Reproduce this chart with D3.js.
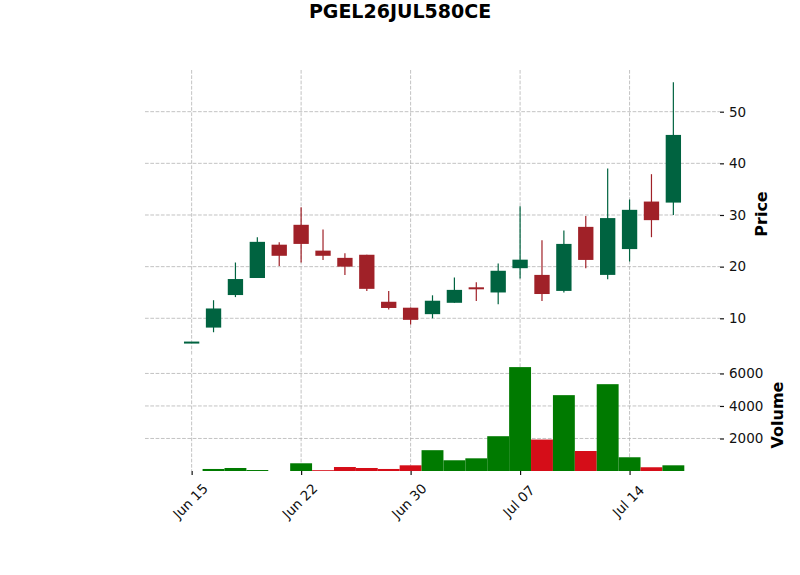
<!DOCTYPE html>
<html>
<head>
<meta charset="utf-8">
<script src="https://cdn.jsdelivr.net/npm/d3@7"></script>
<style>
  body { margin: 0; background: #fff; }
  text { font-family: "DejaVu Sans", sans-serif; }
</style>
</head>
<body>
<div id="chart"></div>
<script>
// data
var dates = ["Jun 15","Jun 16","Jun 17","Jun 18","Jun 19","Jun 22","Jun 23","Jun 24","Jun 25","Jun 26",
             "Jun 30","Jul 01","Jul 02","Jul 03","Jul 06","Jul 07","Jul 08","Jul 09","Jul 10","Jul 13",
             "Jul 14","Jul 15","Jul 16"];
var opens  = [5.3, 8.2, 14.5, 17.8, 24.25, 28.1, 23.1, 21.7, 22.3, 13.2, 12.05, 10.8, 13.0, 16.0, 15.0, 19.7, 18.4, 15.3, 27.7, 18.4, 23.4, 32.6, 32.4];
var highs  = [5.3, 13.5, 20.8, 25.7, 24.7, 31.5, 27.2, 22.6, 22.3, 15.3, 12.1, 14.45, 17.9, 17.0, 20.6, 31.7, 25.1, 27.0, 29.8, 39.0, 33.0, 37.9, 55.7];
var lows   = [5.3, 7.3, 14.1, 17.8, 20.1, 20.8, 21.3, 18.4, 15.3, 11.7, 8.8, 10.0, 13.0, 13.35, 12.7, 17.7, 13.35, 15.0, 19.7, 17.55, 21.0, 25.7, 30.0];
var closes = [5.3, 11.9, 17.6, 24.8, 22.1, 24.4, 22.1, 20.0, 15.7, 12.0, 9.7, 13.4, 15.5, 15.7, 19.2, 21.35, 14.7, 24.4, 21.3, 29.4, 31.0, 29.0, 45.5];
var volumes = [0, 125, 185, 60, 0, 475, 50, 245, 185, 125, 350, 1280, 660, 780, 2140, 6390, 1935, 4665, 1230, 5340, 845, 230, 350];

var xTickIdx = [0, 5, 10, 15, 20];
var priceTicks = [10, 20, 30, 40, 50];
var volTicks = [2000, 4000, 6000];

var upColor = "#006340", downColor = "#A02128";
var volUp = "#007a00", volDown = "#d50d18";

var svgWidth = 800, svgHeight = 575;
var left = 145, right = 720;
var priceTop = 70, priceBottom = 356;
var volTop = 358, volBottom = 471;

var svg = d3.select("#chart").append("svg")
  .attr("width", svgWidth)
  .attr("height", svgHeight);

var x = d3.scaleLinear().domain([-2.13, 24.13]).range([left, right]);
var yPrice = d3.scaleLinear().domain([2.70, 58.07]).range([priceBottom, priceTop]);
var yVol = d3.scaleLinear().domain([0, 6950]).range([volBottom, volTop]);
var step = x(1) - x(0);

var grid = svg.append("g")
  .attr("stroke", "#b4b4b4")
  .attr("stroke-width", 0.8)
  .attr("stroke-dasharray", "3.7,1.6");

// vertical grid lines in both panels
xTickIdx.forEach(function(i) {
  grid.append("line").attr("x1", x(i)).attr("x2", x(i)).attr("y1", priceTop).attr("y2", priceBottom);
  grid.append("line").attr("x1", x(i)).attr("x2", x(i)).attr("y1", volTop).attr("y2", volBottom);
});
priceTicks.forEach(function(t) {
  grid.append("line").attr("x1", left).attr("x2", right).attr("y1", yPrice(t)).attr("y2", yPrice(t));
});
volTicks.forEach(function(t) {
  grid.append("line").attr("x1", left).attr("x2", right).attr("y1", yVol(t)).attr("y2", yVol(t));
});

var candles = dates.map(function(d, i) {
  return { i: i, o: opens[i], h: highs[i], l: lows[i], c: closes[i], v: volumes[i] };
});

// volume bars (colour by close vs previous close)
svg.append("g").selectAll("rect")
  .data(candles.filter(function(d) { return d.v > 0; }))
  .enter().append("rect")
  .attr("x", function(d) { return x(d.i) - step / 2; })
  .attr("width", step)
  .attr("y", function(d) { return yVol(d.v); })
  .attr("height", function(d) { return yVol(0) - yVol(d.v); })
  .attr("fill", function(d) {
    var prev = d.i > 0 ? closes[d.i - 1] : d.c;
    return d.c >= prev ? volUp : volDown;
  });

// wicks
var cg = svg.append("g");
cg.selectAll("line")
  .data(candles)
  .enter().append("line")
  .attr("x1", function(d) { return x(d.i); })
  .attr("x2", function(d) { return x(d.i); })
  .attr("y1", function(d) { return yPrice(d.h); })
  .attr("y2", function(d) { return yPrice(d.l); })
  .attr("stroke", function(d) { return d.c >= d.o ? upColor : downColor; })
  .attr("stroke-width", 1.2);

// bodies
cg.selectAll("rect")
  .data(candles)
  .enter().append("rect")
  .attr("x", function(d) { return x(d.i) - step * 0.35; })
  .attr("width", step * 0.7)
  .attr("y", function(d) { return yPrice(Math.max(d.o, d.c)) - (d.o == d.c ? 1 : 0); })
  .attr("height", function(d) { return Math.max(2, Math.abs(yPrice(d.o) - yPrice(d.c))); })
  .attr("fill", function(d) { return d.c >= d.o ? upColor : downColor; });

// axes
var priceAxis = svg.append("g")
  .attr("transform", "translate(" + right + ",0)")
  .call(d3.axisRight(yPrice).tickValues(priceTicks).tickSize(4).tickPadding(5));
var volAxis = svg.append("g")
  .attr("transform", "translate(" + right + ",0)")
  .call(d3.axisRight(yVol).tickValues(volTicks).tickSize(4).tickPadding(5).tickFormat(d3.format("d")));
var xAxis = svg.append("g")
  .attr("transform", "translate(0," + volBottom + ")")
  .call(d3.axisBottom(x).tickValues(xTickIdx).tickSize(4).tickFormat(function(i) { return dates[i]; }));

[priceAxis, volAxis, xAxis].forEach(function(a) {
  a.select(".domain").remove();
  a.selectAll("text").attr("font-family", "DejaVu Sans").attr("font-size", 13.5).attr("fill", "#111");
  a.selectAll("line").attr("stroke", "#111").attr("stroke-width", 1.2);
});

// rotate the date labels 45 degrees, centred under the tick
xAxis.selectAll(".tick text")
  .attr("text-anchor", "middle")
  .attr("dominant-baseline", "central")
  .attr("y", 0)
  .attr("dy", 0)
  .attr("transform", "translate(-2,30) rotate(-45)");

// titles
svg.append("text")
  .attr("x", 400).attr("y", 18)
  .attr("text-anchor", "middle")
  .attr("font-size", 19).attr("font-weight", "bold")
  .text("PGEL26JUL580CE");

svg.append("text")
  .attr("transform", "translate(767,214) rotate(-90)")
  .attr("text-anchor", "middle")
  .attr("font-size", 16).attr("font-weight", "bold")
  .text("Price");

svg.append("text")
  .attr("transform", "translate(783,415) rotate(-90)")
  .attr("text-anchor", "middle")
  .attr("font-size", 16).attr("font-weight", "bold")
  .text("Volume");
</script>
</body>
</html>
